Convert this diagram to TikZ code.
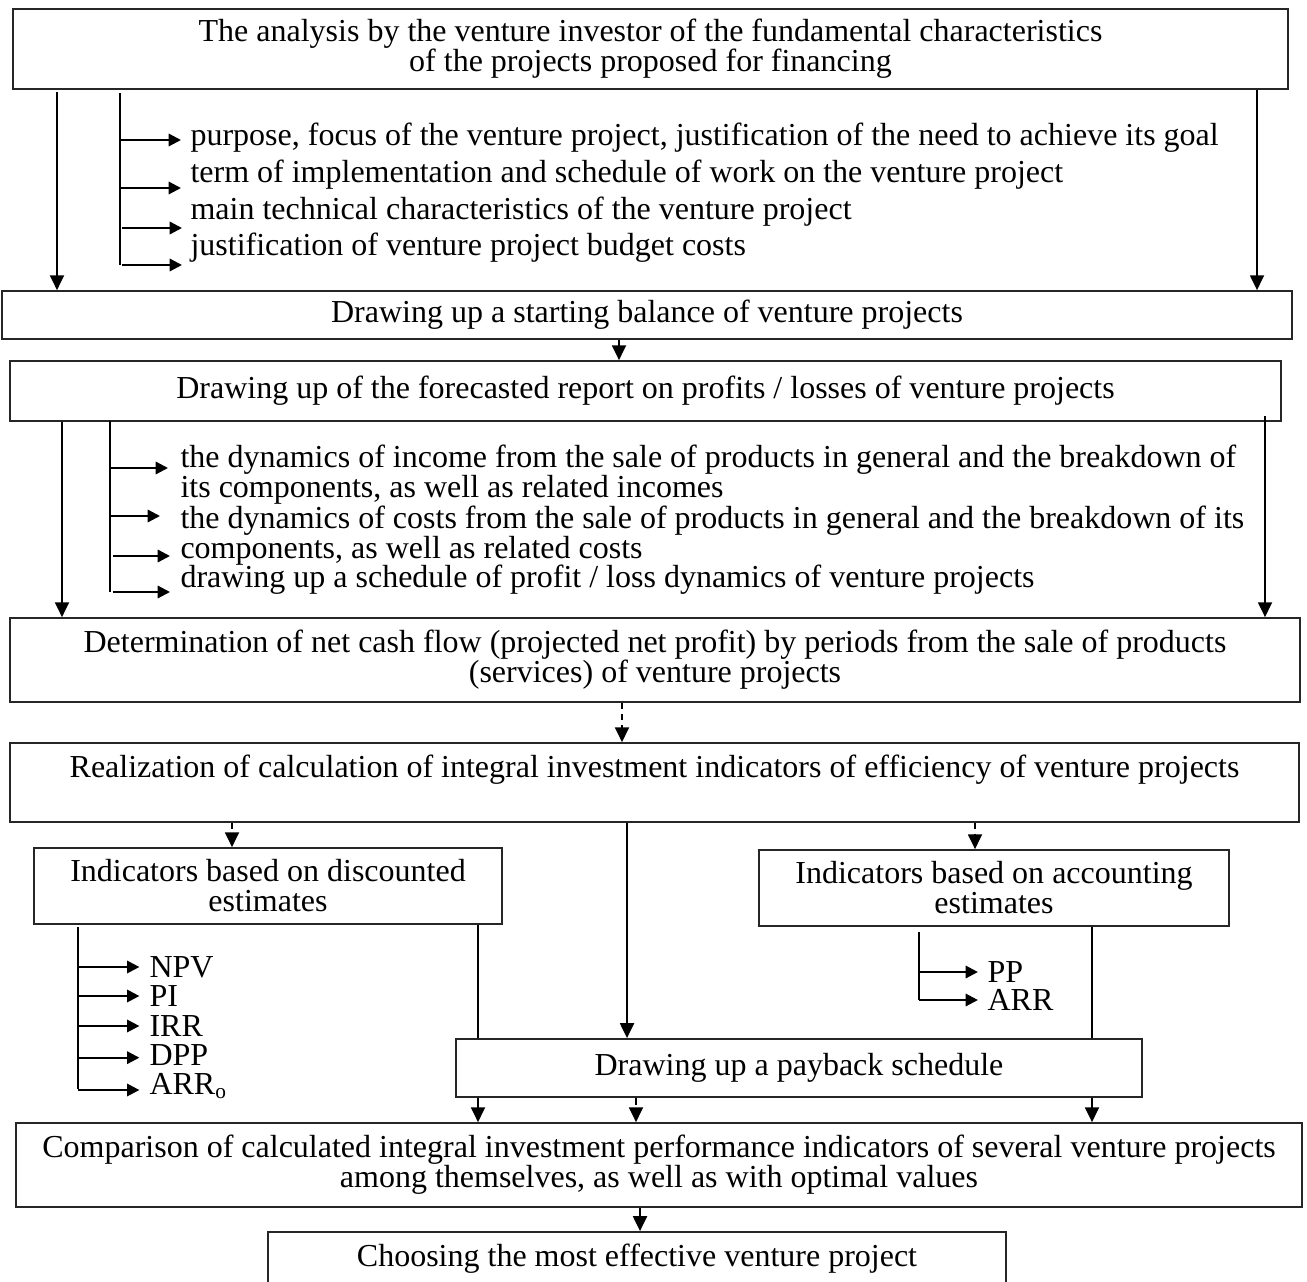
\documentclass[tikz,border=0pt]{standalone}
\usepackage{fontspec}
\setmainfont{Liberation Serif}
\usetikzlibrary{arrows.meta, positioning, calc}

\begin{document}
\begin{tikzpicture}[
    x=0.375pt, y=-0.375pt,
    font=\fontsize{12}{11.25}\selectfont,
    stage/.style={rectangle, draw=black!85, line width=0.6pt, align=center, inner sep=0pt},
    item/.style={anchor=west, inner sep=0pt},
    arrow/.style={-{Triangle[length=5.6pt, width=5.2pt]}, line width=0.85pt},
    darrow/.style={arrow, dash pattern=on 2.5pt off 1.6pt},
    branch/.style={-{Triangle[length=4.6pt, width=4.6pt]}, line width=0.85pt},
    spine/.style={line width=0.7pt}
]
\useasboundingbox (0,0) rectangle (1307,1282);
\clip (0,0) rectangle (1307,1282);

% Main stages
\node[stage, minimum width=478.1pt, minimum height=30pt] (analysis) at (650.5,49)
    {The analysis by the venture investor of the fundamental characteristics\\of the projects proposed for financing};
\node[stage, minimum width=483.8pt, minimum height=18pt] (balance) at (647,315)
    {Drawing up a starting balance of venture projects};
\node[stage, minimum width=476.6pt, minimum height=22.5pt] (forecast) at (645.5,391)
    {Drawing up of the forecasted report on profits / losses of venture projects};
\node[stage, minimum width=483.8pt, minimum height=31.5pt] (cashflow) at (655,660)
    {Determination of net cash flow (projected net profit) by periods from the sale of products\\(services) of venture projects};
\node[stage, minimum width=483.4pt, minimum height=29.6pt, text height=8.5pt, text depth=12pt] (realize) at (654.5,782.5)
    {Realization of calculation of integral investment indicators of efficiency of venture projects};
\node[stage, minimum width=175.5pt, minimum height=28.5pt] (discounted) at (268,886)
    {Indicators based on discounted\\estimates};
\node[stage, minimum width=176.3pt, minimum height=28.5pt] (accounting) at (994,888)
    {Indicators based on accounting\\estimates};
\node[stage, minimum width=257.3pt, minimum height=21.8pt] (payback) at (799,1068)
    {Drawing up a payback schedule};
\node[stage, minimum width=482.3pt, minimum height=31.5pt] (compare) at (659,1165)
    {Comparison of calculated integral investment performance indicators of several venture projects\\among themselves, as well as with optimal values};
\node[stage, minimum width=276.8pt, minimum height=21.8pt, text height=8.5pt, text depth=4.5pt] (choose) at (637,1261)
    {Choosing the most effective venture project};

% Characteristics of the projects
\node[item] (purpose) at (190,138) {purpose, focus of the venture project, justification of the need to achieve its goal};
\node[item] (term) at (190,175) {term of implementation and schedule of work on the venture project};
\node[item] (techn) at (190,212) {main technical characteristics of the venture project};
\node[item] (budget) at (190,248) {justification of venture project budget costs};

% Profit / loss report items
\node[item, align=left] (income) at (180,475) {the dynamics of income from the sale of products in general and the breakdown of\\its components, as well as related incomes};
\node[item, align=left] (costs) at (180,536) {the dynamics of costs from the sale of products in general and the breakdown of its\\components, as well as related costs};
\node[item] (sched) at (180,580) {drawing up a schedule of profit / loss dynamics of venture projects};

% Indicators
\node[item] (npv) at (149,967) {NPV};
\node[item] (pi) at (149,996) {PI};
\node[item] (irr) at (149,1026) {IRR};
\node[item] (dpp) at (149,1055) {DPP};
\node[item] (arro) at (149,1086) {ARR\textsubscript{o}};
\node[item] (pp) at (987,972) {PP};
\node[item] (arr) at (987,1000) {ARR};

% Columns and arrow tips
\coordinate (colA) at (57,0);
\coordinate (colB) at (1257,0);
\coordinate (colC) at (62,0);
\coordinate (colD) at (1265,0);
\coordinate (colE) at (627,0);
\coordinate (colF) at (478,0);
\coordinate (colG) at (1092,0);
\coordinate (spA) at (120,93);
\coordinate (spB) at (110,421);
\coordinate (spC) at (78,927);
\coordinate (spD) at (919,932);
\coordinate (tipA1) at (181,140);
\coordinate (tipA2) at (181,188);
\coordinate (tipA3) at (182,228);
\coordinate (tipA4) at (182,265);
\coordinate (tipB1) at (168,468);
\coordinate (tipB2) at (160,516);
\coordinate (tipB3) at (170,556);
\coordinate (tipB4) at (170,592);

% Long arrows
\draw[arrow] ([yshift=-1pt]analysis.south -| colA) -- (balance.north -| colA);
\draw[arrow] (analysis.south -| colB) -- (balance.north -| colB);
\draw[darrow] (balance.south -| 619,0) -- (forecast.north -| 619,0);
\draw[arrow] (forecast.south -| colC) -- (cashflow.north -| colC);
\draw[arrow] ([yshift=2pt]forecast.south -| colD) -- (cashflow.north -| colD);
\draw[darrow] (cashflow.south -| 622,0) -- (realize.north -| 622,0);
\draw[darrow] (realize.south -| 232,0) -- (discounted.north -| 232,0);
\draw[darrow] (realize.south -| 975,0) -- (accounting.north -| 975,0);
\draw[arrow] (realize.south -| colE) -- (payback.north -| colE);
\draw[spine] (discounted.south -| colF) -- (payback.north -| colF);
\draw[spine] (accounting.south -| colG) -- (payback.north -| colG);
\draw[arrow] (payback.south -| colF) -- (compare.north -| colF);
\draw[darrow] (payback.south -| 636,0) -- (compare.north -| 636,0);
\draw[arrow] (payback.south -| colG) -- (compare.north -| colG);
\draw[arrow] (compare.south -| 640,0) -- (choose.north -| 640,0);

% Branches
\draw[spine] (spA) -- (spA |- tipA4);
\draw[branch] (tipA1 -| spA) -- (tipA1);
\draw[branch] (tipA2 -| spA) -- (tipA2);
\draw[branch] ([xshift=0.8pt]tipA3 -| spA) -- (tipA3);
\draw[branch] ([xshift=0.8pt]tipA4 -| spA) -- (tipA4);

\draw[spine] (spB) -- (spB |- tipB4);
\draw[branch] (tipB1 -| spB) -- (tipB1);
\draw[branch] (tipB2 -| spB) -- (tipB2);
\draw[branch] ([xshift=1pt]tipB3 -| spB) -- (tipB3);
\draw[branch] ([xshift=1pt]tipB4 -| spB) -- (tipB4);

\draw[spine] (spC) -- ([yshift=-1pt]spC |- arro.west);
\draw[branch, shorten >=3.6pt] (npv.west -| spC) -- (npv.west);
\draw[branch, shorten >=3.6pt] (pi.west -| spC) -- (pi.west);
\draw[branch, shorten >=3.6pt] (irr.west -| spC) -- (irr.west);
\draw[branch, shorten >=3.6pt] ([yshift=-1pt]dpp.west -| spC) -- ([yshift=-1pt]dpp.west);
\draw[branch, shorten >=3.6pt] ([yshift=-1.5pt]arro.west -| spC) -- ([yshift=-1.5pt]arro.west);

\draw[spine] (spD) -- (spD |- arr.west);
\draw[branch, shorten >=3.4pt] (pp.west -| spD) -- (pp.west);
\draw[branch, shorten >=3.4pt] (arr.west -| spD) -- (arr.west);

\end{tikzpicture}
\end{document}
